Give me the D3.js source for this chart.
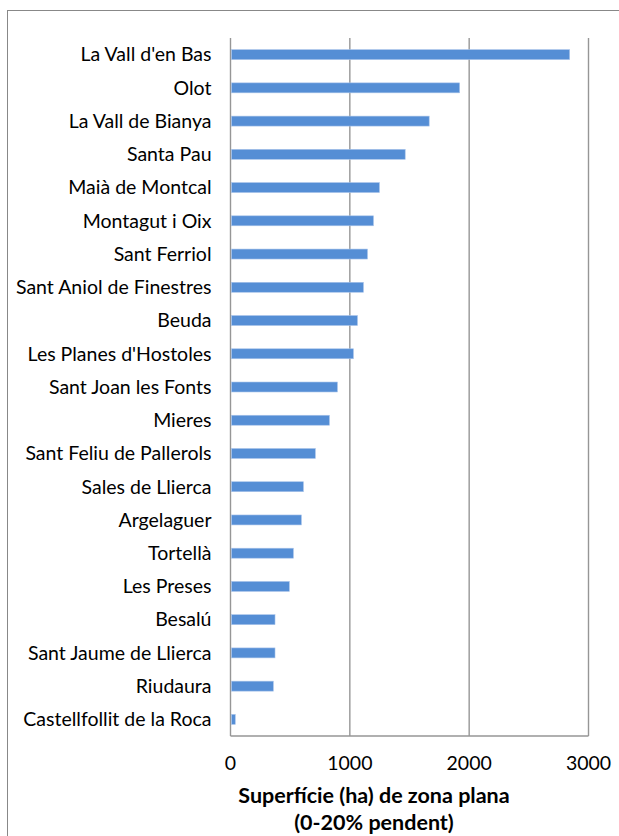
<!DOCTYPE html>
<meta charset="utf-8">
<style>
body { margin: 0; background: #fff; }
.bar { fill: #558ed5; stroke: #a9c4ea; stroke-width: 0.6; }
text { font-family: Lato, "Open Sans", sans-serif; fill: #000; }
</style>
<body>
<script src="https://cdn.jsdelivr.net/npm/d3@7"></script>
<script>

// data
var municipis = ["La Vall d'en Bas", "Olot", "La Vall de Bianya", "Santa Pau", "Maià de Montcal",
  "Montagut i Oix", "Sant Ferriol", "Sant Aniol de Finestres", "Beuda", "Les Planes d'Hostoles",
  "Sant Joan les Fonts", "Mieres", "Sant Feliu de Pallerols", "Sales de Llierca", "Argelaguer",
  "Tortellà", "Les Preses", "Besalú", "Sant Jaume de Llierca", "Riudaura", "Castellfollit de la Roca"];
var superficie = [2842, 1920, 1665, 1464, 1248, 1198, 1148, 1114, 1064, 1030,
  896, 829, 711, 611, 594, 527, 493, 373, 373, 359, 40];
var xTicks = [0, 1000, 2000, 3000];
var titol = ["Superfície (ha) de zona plana", "(0-20% pendent)"];

var data = municipis.map(function(m, i) { return {name: m, value: superficie[i]}; });

var W = 619, H = 836;
var margin = {top: 38, left: 230.5, right: 31, bottom: 100};
var width = 588.5 - margin.left,
    height = 736 - margin.top;

var svg = d3.select("body").append("svg")
    .attr("width", W)
    .attr("height", H);

// outer chart border (runs off the right/bottom edges)
svg.append("rect")
    .attr("x", 7.5).attr("y", 10.5)
    .attr("width", W).attr("height", H)
    .attr("fill", "none").attr("stroke", "#888").attr("stroke-width", 1);

var g = svg.append("g")
    .attr("transform", "translate(" + margin.left + "," + margin.top + ")");

var x = d3.scaleLinear().domain([0, 3000]).range([0, width]);
var y = d3.scaleBand().domain(municipis).range([0, height]).paddingInner(0.7).paddingOuter(0.35);

// gridlines
g.selectAll(".grid")
    .data(xTicks)
  .enter().append("line")
    .attr("class", "grid")
    .attr("x1", function(d) { return x(d); })
    .attr("x2", function(d) { return x(d); })
    .attr("y1", 0).attr("y2", height)
    .attr("stroke", "#969696").attr("stroke-width", 1.4);

// bars
g.selectAll(".bar")
    .data(data)
  .enter().append("rect")
    .attr("class", "bar")
    .attr("x", x(0) + 1)
    .attr("y", function(d) { return y(d.name); })
    .attr("width", function(d) { return x(d.value) - x(0) - 1; })
    .attr("height", y.bandwidth());

// bottom axis line
g.append("line")
    .attr("x1", 0).attr("x2", width)
    .attr("y1", height).attr("y2", height)
    .attr("stroke", "#969696").attr("stroke-width", 1.4);

// x tick labels
g.selectAll(".xlab")
    .data(xTicks)
  .enter().append("text")
    .attr("x", function(d) { return x(d); })
    .attr("y", height + 34)
    .attr("text-anchor", "middle")
    .style("font-size", "19.5px")
    .text(function(d) { return d; });

// category labels
g.selectAll(".ylab")
    .data(municipis)
  .enter().append("text")
    .attr("x", -19)
    .attr("y", function(d) { return y(d) + y.bandwidth() / 2; })
    .attr("dy", "0.35em")
    .attr("text-anchor", "end")
    .style("font-size", "19.5px")
    .text(function(d) { return d; });

// axis title
svg.selectAll(".title")
    .data(titol)
  .enter().append("text")
    .attr("x", 374)
    .attr("y", function(d, i) { return 803 + i * 27; })
    .attr("text-anchor", "middle")
    .style("font-size", "21.5px")
    .style("font-weight", "bold")
    .text(function(d) { return d; });

</script>
</body>
